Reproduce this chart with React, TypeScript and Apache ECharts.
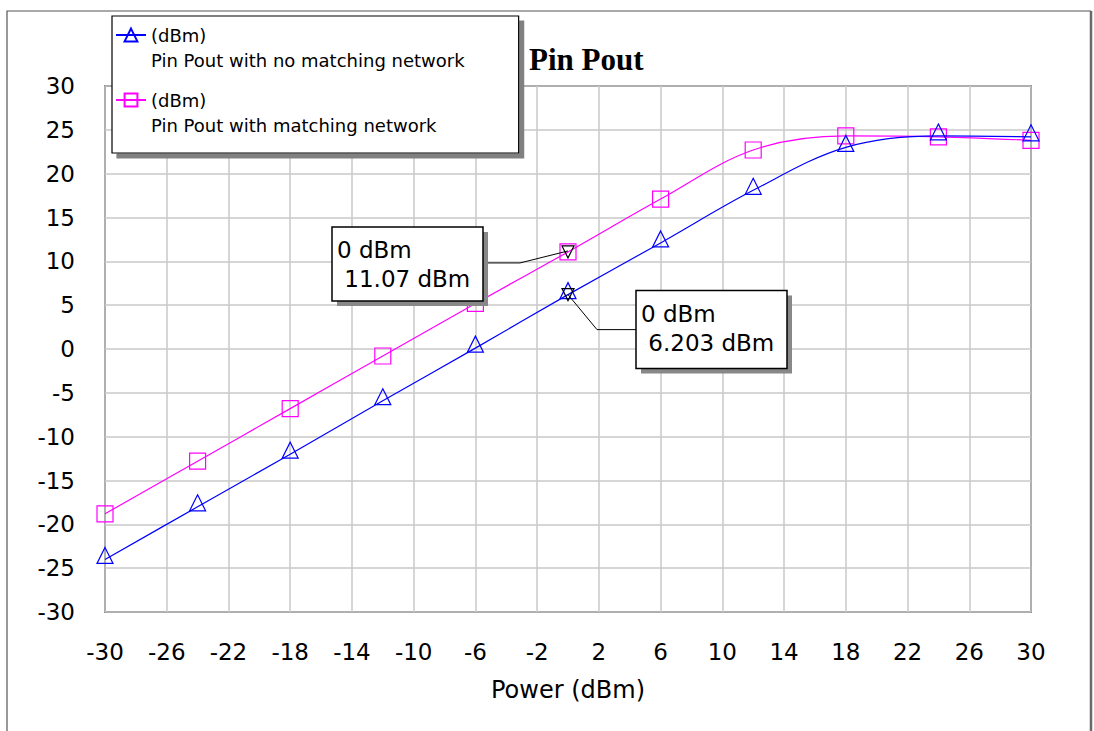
import { useEffect, useRef } from "react";
import * as echarts from "echarts";

// Input power sweep (dBm) and the simulated output power of both amplifier variants (dBm)
const powerIn = [-30, -24, -18, -12, -6, 0, 6, 12, 18, 24, 30];
const poutNoMatch = [-24.0, -18.0, -12.0, -5.9, 0.1, 6.203, 12.1, 18.1, 23.0, 24.3, 24.2];
const poutMatch = [-18.8, -12.8, -6.8, -0.8, 5.2, 11.07, 17.1, 22.7, 24.3, 24.2, 23.8];

const seriesNames = [
  "(dBm)\nPin Pout with no matching network",
  "(dBm)\nPin Pout with matching network",
];

// Marker readouts at Pin = 0 dBm
const markerIn = 0;
const markerNoMatch = 6.203;
const markerMatch = 11.07;

const xTicks = { min: -30, max: 30, interval: 4 };
const yTicks = { min: -30, max: 30, interval: 5 };

const FONT = "DejaVu Sans";

export default function App() {
  const ref = useRef<HTMLDivElement>(null);

  useEffect(() => {
    const el = ref.current!;
    const chart = echarts.init(el, null, { renderer: "svg" });

    const makeSeries = (
      name: string,
      values: number[],
      color: string,
      symbol: string,
      z: number,
      markY: number,
      offset: number[]
    ) => ({
      name,
      type: "line",
      z,
      data: powerIn.map((x, i) => [x, values[i]]),
      smooth: 0.35,
      symbol,
      symbolSize: 16,
      symbolOffset: offset,
      showSymbol: true,
      lineStyle: { color, width: 1.2 },
      itemStyle: { color: "transparent", borderColor: color, borderWidth: 1.2 },
      emphasis: { disabled: true },
      markPoint: {
        symbol: "triangle",
        symbolRotate: 180,
        symbolSize: 12,
        itemStyle: { color: "transparent", borderColor: "#000", borderWidth: 1.2 },
        label: { show: false },
        data: [{ coord: [markerIn, markY] }],
      },
    });

    chart.setOption({
      animation: false,
      backgroundColor: "#fff",
      title: {
        text: "Pin Pout",
        left: 524,
        top: 39,
        textStyle: {
          fontFamily: "Liberation Serif",
          fontWeight: "bold",
          fontSize: 31,
          color: "#000",
        },
      },
      legend: {
        data: seriesNames,
        orient: "vertical",
        left: 112,
        top: 16,
        itemWidth: 30,
        itemHeight: 16,
        itemGap: -10,
        padding: [-18.5, 54, 15.5, 3],
        backgroundColor: "#fff",
        borderColor: "#000",
        borderWidth: 1.2,
        shadowColor: "#808080",
        shadowOffsetX: 5,
        shadowOffsetY: 5,
        shadowBlur: 0,
        selectedMode: false,
        // a leading blank line keeps the "(dBm)" line level with the icon
        formatter: (name: string) => "\n" + name,
        textStyle: {
          fontFamily: FONT,
          fontSize: 18,
          lineHeight: 25,
          color: "#000",
        },
      },
      grid: {
        left: 105,
        right: 63,
        top: 86,
        bottom: 119,
        show: true,
        borderColor: "#333",
        borderWidth: 1.5,
        backgroundColor: "transparent",
      },
      xAxis: {
        type: "value",
        ...xTicks,
        name: "Power (dBm)",
        nameLocation: "middle",
        nameGap: 66,
        nameTextStyle: { fontFamily: FONT, fontSize: 24, color: "#000" },
        axisLine: { show: false },
        axisTick: { show: false },
        axisLabel: { fontFamily: FONT, fontSize: 23, color: "#000", margin: 28 },
        splitLine: { show: true, lineStyle: { color: "#c8c8c8", width: 1.5 } },
      },
      yAxis: {
        type: "value",
        ...yTicks,
        axisLine: { show: false },
        axisTick: { show: false },
        axisLabel: { fontFamily: FONT, fontSize: 23, color: "#000", margin: 30 },
        splitLine: { show: true, lineStyle: { color: "#c8c8c8", width: 1.5 } },
      },
      series: [
        makeSeries(seriesNames[0], poutNoMatch, "#0000ff", "triangle", 4, markerNoMatch, [0, -4]),
        makeSeries(seriesNames[1], poutMatch, "#ff00ff", "rect", 3, markerMatch, [0, 0]),
      ],
    });

    // Marker readout boxes, anchored to the marked data points
    const p1 = chart.convertToPixel({ gridIndex: 0 }, [markerIn, markerMatch]) as number[];
    const p2 = chart.convertToPixel({ gridIndex: 0 }, [markerIn, markerNoMatch]) as number[];

    const box = (x: number, y: number, w: number, h: number, text: string) => [
      {
        type: "rect",
        z: 100,
        shape: { x: x + 5, y: y + 5, width: w, height: h },
        style: { fill: "#888" },
      },
      {
        type: "rect",
        z: 101,
        shape: { x, y, width: w, height: h },
        style: { fill: "#fff", stroke: "#000", lineWidth: 1.5 },
      },
      {
        type: "text",
        z: 102,
        style: {
          text,
          x: x + 5,
          y: y + 9,
          fontFamily: FONT,
          fontSize: 23,
          lineHeight: 29,
          fill: "#000",
          verticalAlign: "top",
        },
      },
    ];

    const b1 = { x: p1[0] - 236, y: p1[1] - 25, w: 151, h: 74 };
    const b2 = { x: p2[0] + 68, y: p2[1] - 4, w: 151, h: 78 };

    chart.setOption({
      graphic: [
        // outer frame
        {
          type: "polyline",
          z: 0,
          shape: { points: [[7, 760], [7, 11], [1091, 11]] },
          style: { stroke: "#555", lineWidth: 1.2, fill: "none" },
        },
        {
          type: "line",
          z: 0,
          shape: { x1: 1091, y1: 11, x2: 1091, y2: 760 },
          style: { stroke: "#6a6a6a", lineWidth: 2.5 },
        },
        ...box(b1.x, b1.y, b1.w, b1.h, `${markerIn} dBm\n ${markerMatch} dBm`),
        {
          type: "polyline",
          z: 99,
          shape: {
            points: [
              [b1.x + b1.w, p1[1] + 11],
              [p1[0] - 48, p1[1] + 11],
              [p1[0], p1[1] - 1],
            ],
          },
          style: { stroke: "#000", lineWidth: 1, fill: "none" },
        },
        ...box(b2.x, b2.y, b2.w, b2.h, `${markerIn} dBm\n ${markerNoMatch} dBm`),
        {
          type: "polyline",
          z: 99,
          shape: {
            points: [
              [b2.x, p2[1] + 35],
              [p2[0] + 29, p2[1] + 35],
              [p2[0], p2[1]],
            ],
          },
          style: { stroke: "#000", lineWidth: 1, fill: "none" },
        },
      ],
    });

    return () => chart.dispose();
  }, []);

  return (
    <div
      ref={ref}
      style={{ position: "absolute", left: 0, top: 0, width: 1094, height: 731 }}
    />
  );
}
